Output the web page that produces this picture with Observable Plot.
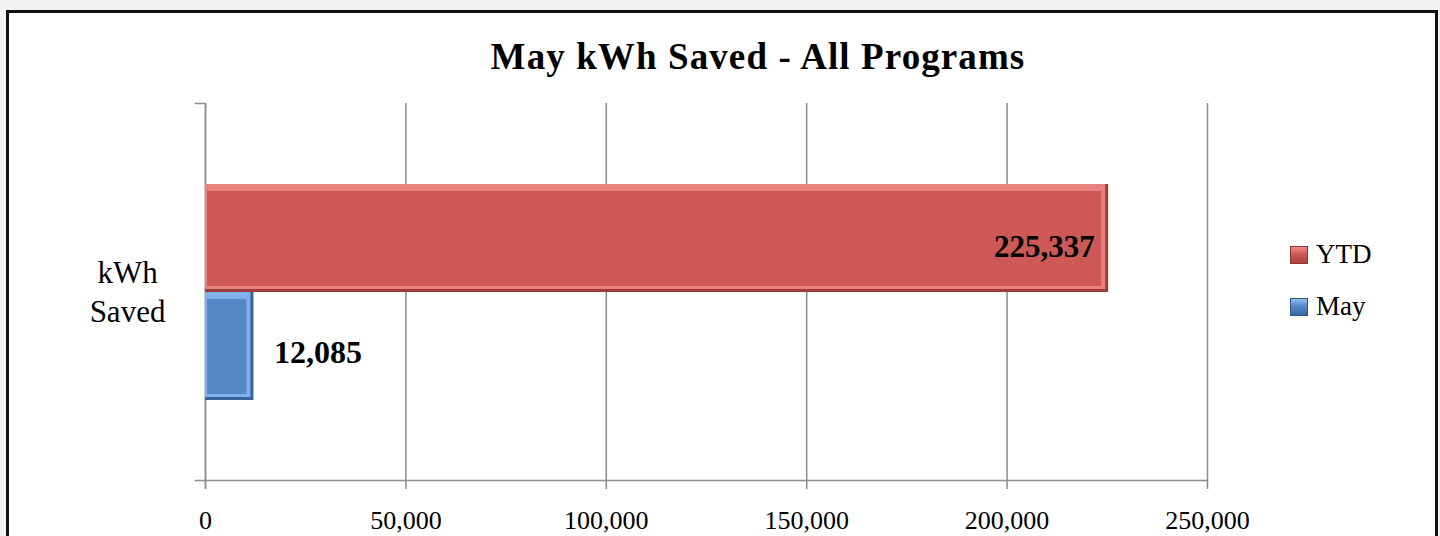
<!DOCTYPE html>
<html>
<head>
<meta charset="utf-8">
<script src="https://cdn.jsdelivr.net/npm/d3@7"></script>
<script src="https://cdn.jsdelivr.net/npm/@observablehq/plot@0.6"></script>
<style>
  html, body { margin: 0; padding: 0; background: #f2f2f2; overflow: hidden; }
  #box { position: absolute; left: 6px; top: 10px; width: 1426px; height: 560px; background: #fff; border: 3px solid #111; border-bottom: none; }
  #chart { position: absolute; left: 0; top: 0; }
  #title { position: absolute; left: 0; width: 1516px; top: 35px; text-align: center; font: bold 37px "Liberation Serif", serif; letter-spacing: 1.1px; color: #000; }
  .legend { position: absolute; left: 1290px; font: 27px "Liberation Serif", serif; color: #000; display: flex; align-items: center; }
  .sw { width: 18px; height: 18px; margin-right: 8px; box-sizing: border-box; }
</style>
</head>
<body>
<div id="box"></div>
<div id="chart"></div>
<div id="title">May kWh Saved - All Programs</div>
<div class="legend" style="top:239px"><div class="sw" style="background:linear-gradient(#f08a88,#cd5856 45%,#a94442);border:1px solid #8c3533"></div>YTD</div>
<div class="legend" style="top:291px"><div class="sw" style="background:linear-gradient(#8fc0f2,#5488c8 45%,#3d68a0);border:1px solid #2f5585"></div>May</div>
<script>
const category = "kWh Saved";
const series = ["YTD", "May"];
const values = [225337, 12085];
const xTicks = [0, 50000, 100000, 150000, 200000, 250000];
const mainColors = ["#cd5856", "#5488c8"];
const lightColors = ["#e88280", "#80b0ea"];
const darkColors = ["#9c3d3b", "#3a6399"];

const data = series.map((s, i) => ({series: s, value: values[i], main: mainColors[i], light: lightColors[i], dark: darkColors[i]}));

const W = 1440, H = 536;
const mL = 205, mR = 233, mT = 103, mB = 56;
const plotW = W - mL - mR;
const grid = "#8c8c8c";
const font = "Liberation Serif, serif";

const chart = Plot.plot({
  width: W, height: H,
  marginLeft: mL, marginRight: mR, marginTop: mT, marginBottom: mB,
  style: {background: "transparent", fontFamily: font, color: "#000", overflow: "visible"},
  x: {domain: [0, 250000], ticks: xTicks, tickFormat: d3.format(","), label: null},
  y: {domain: series, paddingInner: 0, paddingOuter: 0.74, axis: null},
  marks: [
    Plot.gridX(xTicks, {stroke: grid, strokeOpacity: 1, strokeWidth: 1.5}),
    Plot.axisX({ticks: xTicks, tickFormat: d3.format(","), tickSize: 9, tickPadding: 21, fontSize: 26, stroke: grid, strokeWidth: 1.5, label: null}),
    // axis lines
    Plot.frame({anchor: "bottom", stroke: grid, strokeWidth: 1.5, insetLeft: -10}),
    Plot.frame({anchor: "top", stroke: grid, strokeWidth: 1.5, insetLeft: -10, insetRight: plotW}),
    Plot.ruleX([0], {stroke: grid, strokeWidth: 1.5, insetBottom: -9}),
    // bars with bevel effect
    Plot.barX(data, {x: "value", y: "series", fill: "dark", style: {filter: "drop-shadow(3px 3px 3px rgba(0,0,0,0.35))"}}),
    Plot.barX(data, {x: "value", y: "series", fill: "light", insetRight: 3, insetBottom: 3}),
    Plot.barX(data, {x: "value", y: "series", fill: "main", insetLeft: 2, insetTop: 7, insetRight: 7, insetBottom: 6}),
    // labels
    Plot.text(data.filter(d => d.series === "YTD"), {x: "value", y: "series", text: d => d3.format(",")(d.value), textAnchor: "end", dx: -14, dy: 9, fontSize: 31, fontWeight: "bold", fill: "#000"}),
    Plot.text(data.filter(d => d.series === "May"), {x: "value", y: "series", text: d => d3.format(",")(d.value), textAnchor: "start", dx: 20, dy: 6, fontSize: 32, fontWeight: "bold", fill: "#000"}),
    // category label
    Plot.text([category.replace(" ", "\n")], {frameAnchor: "left", dx: -78, dy: -2, text: d => d, textAnchor: "middle", fontSize: 31, lineHeight: 1.27, fill: "#000"})
  ]
});
document.getElementById("chart").appendChild(chart);
</script>
</body>
</html>
